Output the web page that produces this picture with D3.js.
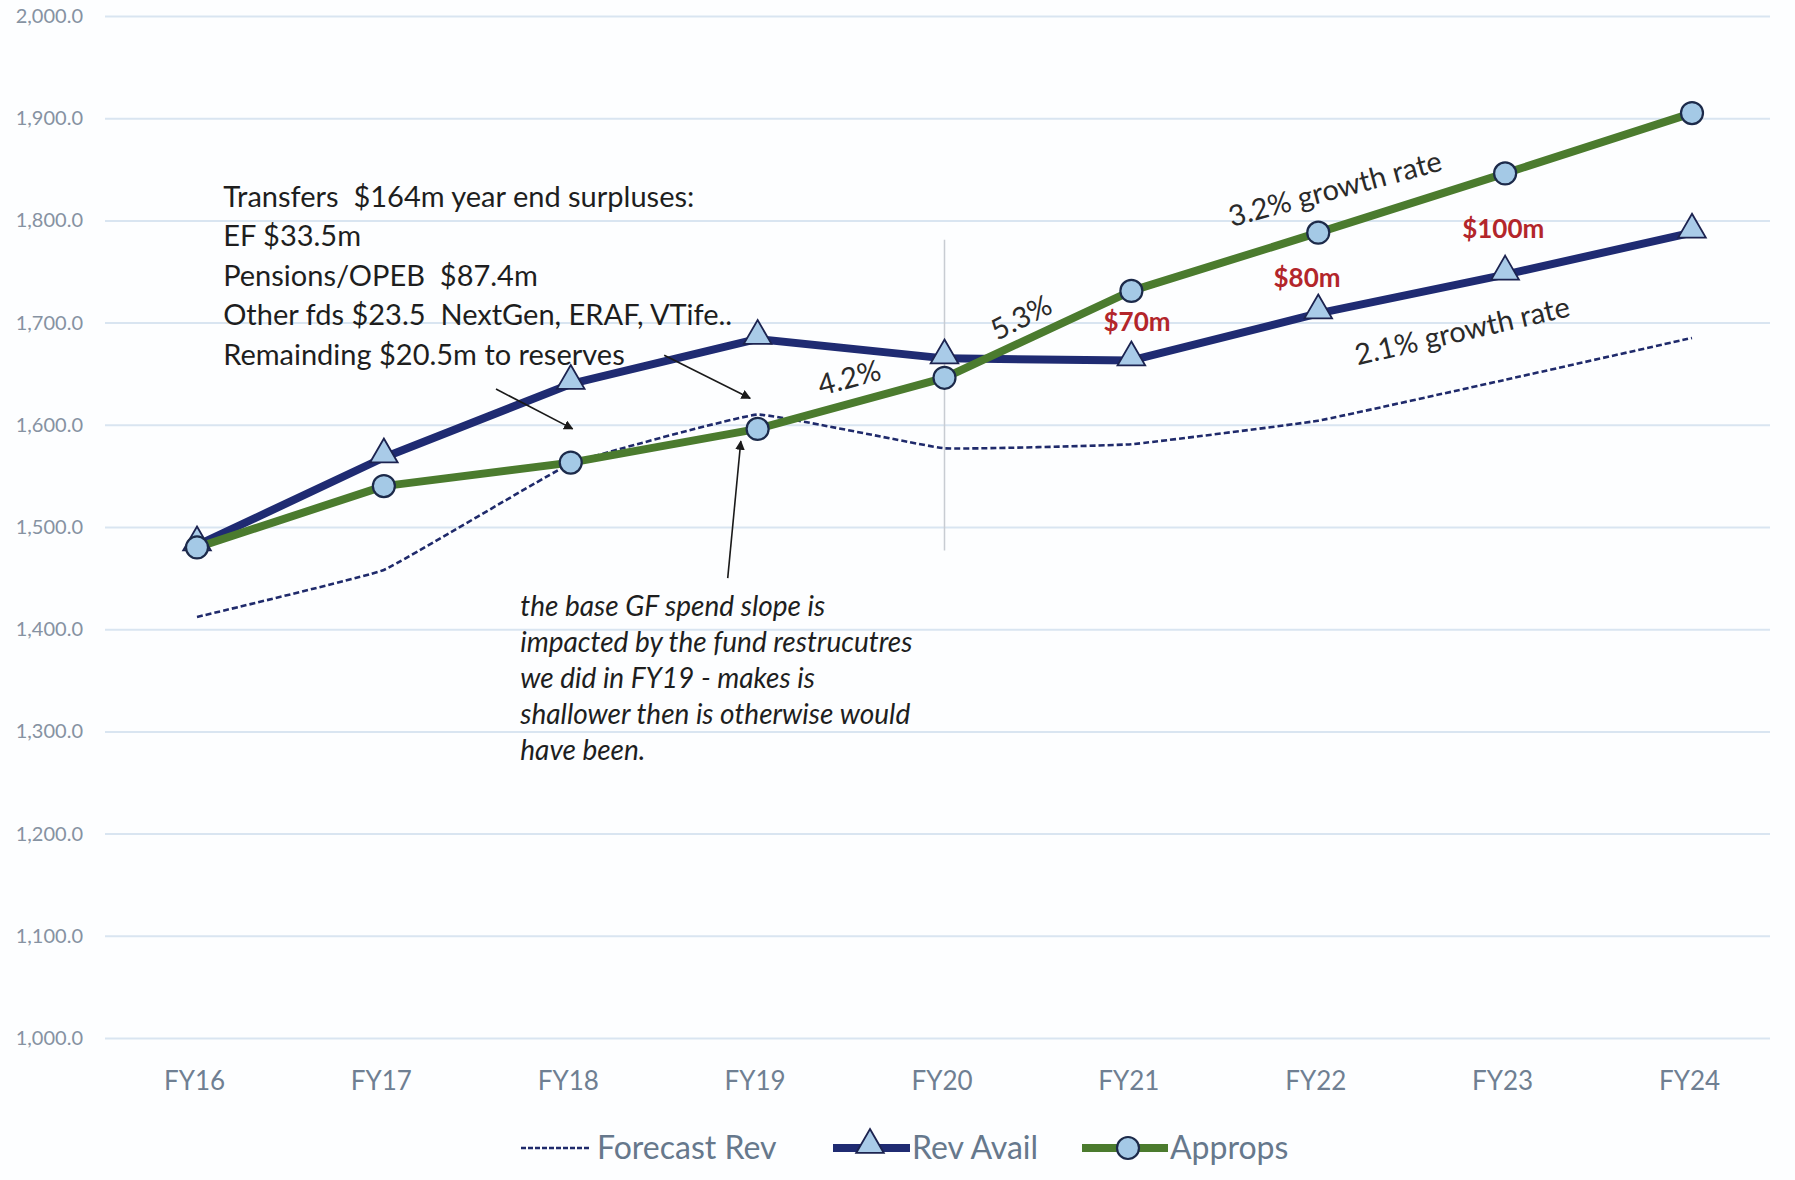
<html>
<head>
<meta charset="utf-8">
<title>GF Revenue vs Approps</title>
<script src="https://cdn.jsdelivr.net/npm/d3@7"></script>
<style>
  body { margin: 0; background: #fdfeff; }
  text { font-family: Lato, "Noto Sans", sans-serif; white-space: pre; }
</style>
</head>
<body>
<script>
// data ($m)
var years = ["FY16", "FY17", "FY18", "FY19", "FY20", "FY21", "FY22", "FY23", "FY24"];
var forecastRev = [1412, 1458, 1562, 1610, 1577, 1581, 1604, 1644, 1685];
var revAvail    = [1482, 1568, 1640, 1684, 1665, 1663, 1709, 1747, 1788];
var approps     = [1480, 1540, 1563, 1596, 1646, 1731, 1788, 1846, 1905];
var yTicks = [1000, 1100, 1200, 1300, 1400, 1500, 1600, 1700, 1800, 1900, 2000];

var transfersNote = ["Transfers  $164m year end surpluses:", "EF $33.5m", "Pensions/OPEB  $87.4m",
                     "Other fds $23.5  NextGen, ERAF, VTife..", "Remainding $20.5m to reserves"];
var slopeNote = ["the base GF spend slope is", "impacted by the fund restrucutres",
                 "we did in FY19 - makes is", "shallower then is otherwise would", "have been."];

var W = 1795, H = 1180;
var svg = d3.select("body").append("svg").attr("width", W).attr("height", H);

var x = d3.scalePoint().domain(years).range([197, 1692]);
var step = x.step();
var xi = function(i) { return x(years[0]) + i * step; };   // fractional category position
var y = d3.scaleLinear().domain([1000, 2000]).range([1038, 16]);

// grid + y labels
var yAxis = d3.axisLeft(y).tickValues(yTicks).tickFormat(d3.format(",.1f"))
              .tickSize(-1665).tickPadding(22);
var gy = svg.append("g").attr("transform", "translate(105,0)").call(yAxis);
gy.select(".domain").remove();
gy.selectAll("line").attr("stroke", "#d9e5f1").attr("stroke-width", 2);
gy.selectAll("text").attr("fill", "#8692a2").style("font-size", "20px");

// x labels
var xAxis = d3.axisBottom(x).tickSize(0).tickPadding(0);
var gx = svg.append("g").attr("transform", "translate(-3,1081)").call(xAxis);
gx.select(".domain").remove();
gx.selectAll("text").attr("fill", "#6f7f92").attr("dy", "0.35em").style("font-size", "26px");

// faint vertical line at FY20
svg.append("line")
  .attr("x1", x("FY20")).attr("x2", x("FY20"))
  .attr("y1", y(1781)).attr("y2", y(1477))
  .attr("stroke", "#c8ccd2").attr("stroke-width", 1.5);

var line = d3.line().x(function(d, i) { return x(years[i]); }).y(function(d) { return y(d); });
var smooth = d3.line().x(function(d, i) { return x(years[i]); }).y(function(d) { return y(d); })
               .curve(d3.curveCardinal.tension(0.75));

svg.append("path").attr("d", smooth(forecastRev)).attr("fill", "none")
  .attr("stroke", "#1f2a6b").attr("stroke-width", 2.6).attr("stroke-dasharray", "6,3");

svg.append("path").attr("d", line(revAvail)).attr("fill", "none")
  .attr("stroke", "#1f2b72").attr("stroke-width", 8).attr("stroke-linejoin", "round");

svg.append("path").attr("d", line(approps)).attr("fill", "none")
  .attr("stroke", "#4b7b2e").attr("stroke-width", 8).attr("stroke-linejoin", "round");

var tri = d3.symbol().type(d3.symbolTriangle).size(330);
svg.selectAll(".tri").data(revAvail).enter().append("path")
  .attr("class", "tri")
  .attr("d", tri)
  .attr("transform", function(d, i) { return "translate(" + x(years[i]) + "," + (y(d) - 3) + ")"; })
  .attr("fill", "#a9cbe8").attr("stroke", "#1c2350").attr("stroke-width", 1.8);

svg.selectAll(".dot").data(approps).enter().append("circle")
  .attr("class", "dot")
  .attr("cx", function(d, i) { return x(years[i]); })
  .attr("cy", function(d) { return y(d); })
  .attr("r", 11)
  .attr("fill", "#a4c9e6").attr("stroke", "#1c2a4a").attr("stroke-width", 2.2);

// arrows
svg.append("defs").append("marker")
  .attr("id", "ah").attr("viewBox", "0 0 10 10").attr("refX", 9).attr("refY", 5)
  .attr("markerWidth", 6).attr("markerHeight", 6).attr("orient", "auto")
  .append("path").attr("d", "M0,0L10,5L0,10z").attr("fill", "#1a1a1a");

var arrows = [[1.6, 1635, 2.01, 1596], [2.5, 1668, 2.96, 1626], [2.84, 1450, 2.91, 1584]];
svg.selectAll(".arr").data(arrows).enter().append("line")
  .attr("x1", function(d) { return xi(d[0]); }).attr("y1", function(d) { return y(d[1]); })
  .attr("x2", function(d) { return xi(d[2]); }).attr("y2", function(d) { return y(d[3]); })
  .attr("stroke", "#1a1a1a").attr("stroke-width", 1.6).attr("marker-end", "url(#ah)");

// text notes
var t1 = svg.append("text").attr("x", xi(0.14)).attr("y", y(1823))
  .attr("fill", "#1e1e1e").style("font-size", "29px");
t1.selectAll("tspan").data(transfersNote).enter().append("tspan")
  .attr("x", xi(0.14)).attr("dy", function(d, i) { return i ? 39.5 : 10; }).text(function(d) { return d; });

var t2 = svg.append("text").attr("x", xi(1.73)).attr("y", y(1422))
  .attr("fill", "#1e1e1e").style("font-size", "28px").style("font-style", "italic");
t2.selectAll("tspan").data(slopeNote).enter().append("tspan")
  .attr("x", xi(1.73)).attr("dy", function(d, i) { return i ? 36 : 9; }).text(function(d) { return d; });

var labels = [
  {t: "4.2%", i: 3.49, v: 1646, r: -15, c: "#2a2a2a", s: 29},
  {t: "5.3%", i: 4.41, v: 1705, r: -27, c: "#2a2a2a", s: 29},
  {t: "3.2% growth rate", i: 6.09, v: 1831, r: -15, c: "#2a2a2a", s: 29},
  {t: "2.1% growth rate", i: 6.77, v: 1692, r: -13, c: "#2a2a2a", s: 29},
  {t: "$70m", i: 5.03, v: 1701, r: 0, c: "#b3262b", s: 26},
  {t: "$80m", i: 5.94, v: 1744, r: 0, c: "#b3262b", s: 26},
  {t: "$100m", i: 6.99, v: 1792, r: 0, c: "#b3262b", s: 26}
];
svg.selectAll(".lbl").data(labels).enter().append("text")
  .attr("text-anchor", "middle").attr("dy", "0.35em")
  .attr("transform", function(d) { return "translate(" + xi(d.i) + "," + y(d.v) + ") rotate(" + d.r + ")"; })
  .attr("fill", function(d) { return d.c; })
  .style("font-size", function(d) { return d.s + "px"; })
  .style("font-weight", function(d) { return d.c === "#b3262b" ? 700 : 400; })
  .text(function(d) { return d.t; });

// legend
var lg = svg.append("g").attr("transform", "translate(0,1148)");
lg.append("line").attr("x1", 521).attr("x2", 590).attr("stroke", "#1f2a6b")
  .attr("stroke-width", 2.6).attr("stroke-dasharray", "5,2");
lg.append("text").attr("x", 597).attr("dy", "0.35em").text("Forecast Rev");
lg.append("line").attr("x1", 833).attr("x2", 910).attr("stroke", "#1f2b72").attr("stroke-width", 8);
lg.append("path").attr("d", tri).attr("transform", "translate(870,-3)")
  .attr("fill", "#a9cbe8").attr("stroke", "#1c2350").attr("stroke-width", 1.8);
lg.append("text").attr("x", 912).attr("dy", "0.35em").text("Rev Avail");
lg.append("line").attr("x1", 1082).attr("x2", 1168).attr("stroke", "#4b7b2e").attr("stroke-width", 8);
lg.append("circle").attr("cx", 1128).attr("r", 11)
  .attr("fill", "#a4c9e6").attr("stroke", "#1c2a4a").attr("stroke-width", 2.2);
lg.append("text").attr("x", 1170).attr("dy", "0.35em").text("Approps");
lg.selectAll("text").attr("fill", "#66788c").style("font-size", "32px");
</script>
</body>
</html>
